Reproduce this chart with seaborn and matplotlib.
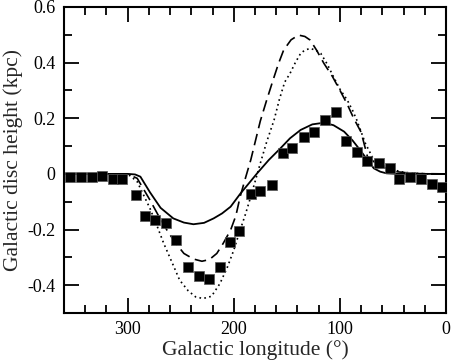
import numpy as np
import pandas as pd
import matplotlib
matplotlib.use("Agg")
import matplotlib.pyplot as plt
import seaborn as sns
from matplotlib.ticker import MultipleLocator, FixedLocator

# Observed disc heights (squares)
obs_l = [354, 344, 334, 324, 314, 305, 292, 284, 274, 264, 254, 243, 233, 223, 213, 204, 195,
         184, 175, 164, 154, 145, 134, 124, 114, 104, 94, 84, 74, 63, 53, 44, 34, 24, 13, 4]
obs_z = [-0.010, -0.010, -0.010, -0.007, -0.020, -0.020, -0.076, -0.151, -0.167, -0.177, -0.238,
         -0.334, -0.368, -0.378, -0.334, -0.245, -0.206,
         -0.073, -0.062, -0.039, 0.076, 0.094, 0.133, 0.150, 0.192, 0.222, 0.120, 0.078,
         0.046, 0.038, 0.022, -0.018, -0.010, -0.018, -0.036, -0.047]

# Model curves
solid_l = [360, 330, 300, 293, 288, 284, 279, 269, 257, 247, 238, 228, 219, 211, 203, 194, 186,
           178, 167, 156, 147, 137, 126, 115, 106, 96, 88, 81, 74, 68, 62, 56, 45, 30, 0]
solid_z = [0.0, 0.0, 0.0, -0.002, -0.010, -0.035, -0.066, -0.122, -0.160, -0.175, -0.181,
           -0.176, -0.160, -0.142, -0.118, -0.072, -0.035, 0.002, 0.050, 0.092, 0.128, 0.158,
           0.178, 0.184, 0.175, 0.152, 0.120, 0.086, 0.050, 0.020, 0.008, 0.002, 0.0, 0.0, 0.0]

dash_l = [360, 330, 305, 298, 291, 279, 271, 263, 255, 247, 238, 230, 223, 216, 210, 203, 198,
          194, 189, 184, 175, 169, 163, 158, 153, 146, 139, 133, 128, 122, 115, 107, 100, 93,
          87, 80, 74, 68, 62, 56, 47, 37, 25, 0]
dash_z = [0.0, 0.0, 0.0, -0.004, -0.016, -0.094, -0.150, -0.202, -0.248, -0.286, -0.306, -0.314,
          -0.308, -0.286, -0.250, -0.202, -0.150, -0.082, -0.015, 0.050, 0.190, 0.265, 0.337,
          0.395, 0.445, 0.482, 0.499, 0.494, 0.481, 0.445, 0.397, 0.350, 0.301, 0.250, 0.200,
          0.150, 0.062, 0.044, 0.030, 0.020, 0.008, 0.004, 0.001, 0.0]

dot_l = [360, 330, 305, 298, 291, 279, 272, 266, 258, 251, 243, 236, 229, 221, 213, 206, 200,
         194, 189, 184, 175, 169, 162, 157, 152, 147, 142, 137, 133, 128, 123, 118, 112, 106,
         100, 93, 88, 84, 76, 68, 62, 55, 49, 40, 30, 15, 0]
dot_z = [0.0, 0.0, 0.0, -0.006, -0.028, -0.124, -0.190, -0.250, -0.320, -0.382, -0.420, -0.442,
         -0.448, -0.440, -0.394, -0.335, -0.274, -0.202, -0.145, -0.082, 0.038, 0.115, 0.194,
         0.268, 0.330, 0.361, 0.400, 0.433, 0.445, 0.451, 0.445, 0.433, 0.395, 0.349, 0.305,
         0.265, 0.228, 0.193, 0.110, 0.050, 0.035, 0.022, 0.014, 0.006, 0.002, 0.0, 0.0]

y_ticks = [-0.4, -0.2, 0.0, 0.2, 0.4, 0.6]
y_tick_labels = ["-0.4", "-0.2", "0", "0.2", "0.4", "0.6"]
x_ticks = [0, 100, 200, 300]
x_tick_labels = ["0", "100", "200", "300"]

sns.set_style("ticks")
plt.rcParams['font.family'] = ['Liberation Serif', 'DejaVu Serif']
plt.rcParams['axes.unicode_minus'] = False

fig = plt.figure(figsize=(4.53, 3.62), dpi=100)
ax = fig.add_axes([0.1413, 0.1354, 0.8432, 0.8453])

sns.lineplot(x=solid_l, y=solid_z, ax=ax, color="black", lw=1.3, sort=False)
sns.lineplot(x=dash_l, y=dash_z, ax=ax, color="black", lw=1.2, sort=False,
             linestyle=(0, (7, 3.5)))
sns.lineplot(x=dot_l, y=dot_z, ax=ax, color="black", lw=1.2, sort=False,
             linestyle=(0, (1, 2)))
sns.scatterplot(x=obs_l, y=obs_z, ax=ax, marker="s", color="black", s=62,
                edgecolor="#555555", linewidth=0.5, zorder=5)

ax.set_xlim(360, 0)
ax.set_ylim(-0.5, 0.6)
ax.xaxis.set_major_locator(FixedLocator(x_ticks))
ax.set_xticklabels(x_tick_labels)
ax.xaxis.set_minor_locator(MultipleLocator(20))
ax.yaxis.set_major_locator(FixedLocator(y_ticks))
ax.set_yticklabels(y_tick_labels)
ax.yaxis.set_minor_locator(MultipleLocator(0.1))

ax.tick_params(which="both", direction="in", top=True, right=True, width=1.3, labelsize=13,
               color="black", labelcolor="black")
ax.tick_params(which="major", length=11, pad=6)
ax.tick_params(which="minor", length=6)
for sp in ax.spines.values():
    sp.set_linewidth(1.5)
    sp.set_color("black")

ax.set_xlabel("Galactic longitude (°)", fontsize=15.5, labelpad=1)
ax.set_ylabel("Galactic disc height (kpc)", fontsize=15.5, labelpad=3)

fig.savefig("out.png", dpi=100)
